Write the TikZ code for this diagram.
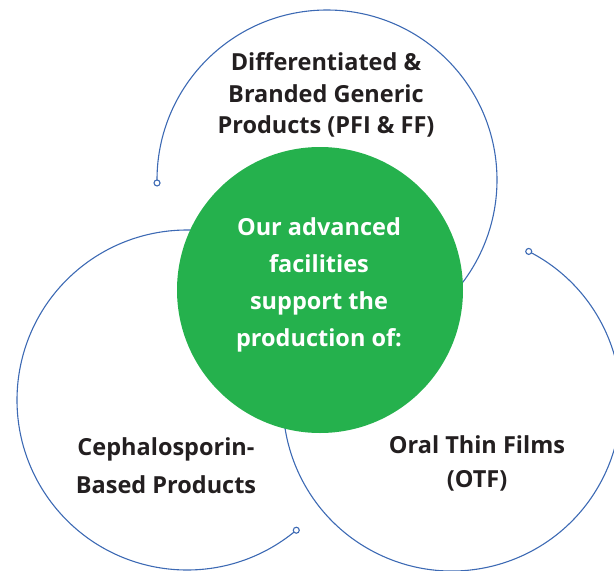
\documentclass[tikz,border=0pt]{standalone}
\usepackage{fontspec}
\setmainfont{Open Sans}[Ligatures=NoCommon]
\definecolor{arcblue}{HTML}{3D6AB4}
\definecolor{hubgreen}{HTML}{25B14D}
\definecolor{txtdark}{HTML}{231F20}
\begin{document}
\begin{tikzpicture}[x=1pt,y=-1pt,
  ring/.style={draw=arcblue,line width=1.1pt},
  endmark/.style={circle,draw=arcblue,fill=white,line width=1.1pt,minimum size=6pt,inner sep=0pt},
  label/.style={font=\fontsize{23.5}{31.5}\selectfont\bfseries,text=txtdark,align=center,inner sep=0pt},
  hubtext/.style={font=\fontsize{23.5}{37}\selectfont\bfseries,text=white,align=center,inner sep=0pt}]
\useasboundingbox (0,0) rectangle (614,571);
\clip (0,0) rectangle (614,571);
% top ring
\coordinate (ctop) at (327,180);
\draw[ring] (ctop) ++(181:170 and -170) coordinate (mtop) arc[start angle=181,end angle=-50,x radius=170,y radius=-170];
\node[endmark] (etop) at (mtop) {};
% left ring
\coordinate (cleft) at (187,400);
\draw[ring] (cleft) ++(-50:170 and -170) coordinate (mleft) arc[start angle=-50,end angle=-300,x radius=170,y radius=-170];
\node[endmark] (eleft) at (mleft) {};
% right ring
\coordinate (cright) at (452,402);
\draw[ring] (cright) ++(63:169 and -169) coordinate (mright) arc[start angle=63,end angle=-205,x radius=169,y radius=-169];
\node[endmark] (eright) at (mright) {};
% hub
\node[circle,fill=hubgreen,minimum size=286pt,inner sep=0pt] (hub) at (320,290) {};
\node[hubtext] (hubt) at (319,285) {Our advanced\\facilities\\support the\\production of:};
\node[label] (ttop) at (326,95) {Differentiated \&\\Branded Generic\\Products (PFI \& FF)};
\node[label,font=\fontsize{23.5}{38}\selectfont\bfseries] (tleft) at (166,466) {Cephalosporin-\\Based Products};
\node[label,font=\fontsize{23.5}{34}\selectfont\bfseries] (tright) at (477,463) {Oral Thin Films\\(OTF)};
\end{tikzpicture}
\end{document}
